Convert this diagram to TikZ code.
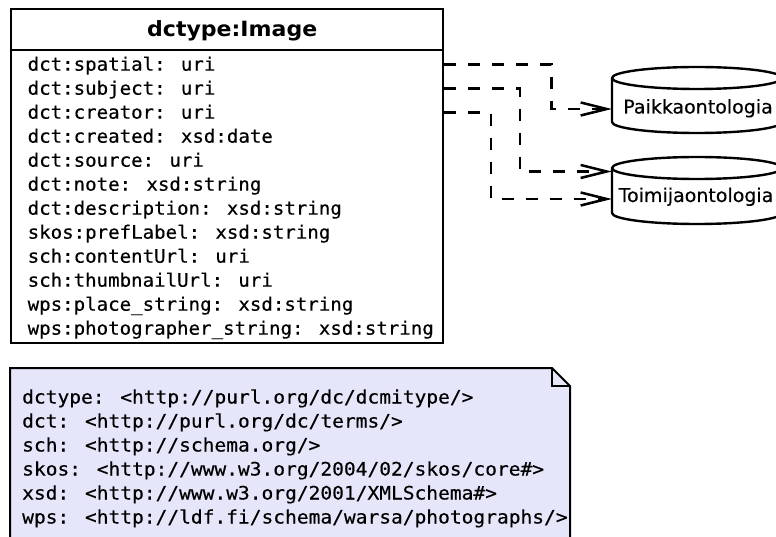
\documentclass[tikz,border=0pt]{standalone}
\usepackage{fontspec}
\setmainfont{DejaVu Sans}
\newfontfamily\attrfont[FakeStretch=1.032,FakeBold=0.4]{DejaVu Sans Mono}
\newfontfamily\nsfont[FakeStretch=1.057,FakeBold=0.4]{DejaVu Sans Mono}
\newfontfamily\titlefont[FakeStretch=1.05]{DejaVu Sans}
\newfontfamily\dbfont[FakeBold=0.3]{DejaVu Sans}
\usetikzlibrary{arrows.meta}
\definecolor{notefill}{RGB}{230,230,250}

\tikzset{
  outline/.style={draw=black, line width=2.4pt},
  attr/.style={anchor=base west, inner sep=0pt, font=\attrfont\fontsize{18.5pt}{22pt}\selectfont},
  nsline/.style={anchor=base west, inner sep=0pt, font=\nsfont\fontsize{18.5pt}{22pt}\selectfont},
  classtitle/.style={anchor=base, inner sep=0pt, font=\titlefont\bfseries\fontsize{21pt}{25pt}\selectfont},
  dbname/.style={anchor=base, inner sep=0pt, font=\dbfont\fontsize{19pt}{22pt}\selectfont},
  dbbody/.style={minimum width=170pt, minimum height=44pt, inner sep=0pt},
  dep/.style={line width=2.5pt, dash pattern=on 12pt off 12pt,
    -{Straight Barb[length=26pt,width=13pt]}},
}

\begin{document}
\begin{tikzpicture}[x=1pt,y=-1pt]
\useasboundingbox (0,0) rectangle (776,537);

% --- class box ---
\node[outline, fill=white, minimum width=432pt, minimum height=334pt,
      inner sep=0pt, anchor=north west] (image) at (10,8) {};
\draw[outline] (image.west |- 0,50) -- (image.east |- 0,50);
\node[classtitle] (title) at ([xshift=5pt]image.north |- 0,36.5) {dctype:Image};

\node[attr] (a1)  at (27.5,70.7)  {dct:spatial: uri};
\node[attr] (a2)  at (27.5,94.7)  {dct:subject: uri};
\node[attr] (a3)  at (27.5,118.7) {dct:creator: uri};
\node[attr] (a4)  at (27.5,142.7) {dct:created: xsd:date};
\node[attr] (a5)  at (27.5,166.7) {dct:source: uri};
\node[attr] (a6)  at (27.5,190.7) {dct:note: xsd:string};
\node[attr] (a7)  at (27.5,214.7) {dct:description: xsd:string};
\node[attr] (a8)  at (27.5,238.7) {skos:prefLabel: xsd:string};
\node[attr] (a9)  at (27.5,262.7) {sch:contentUrl: uri};
\node[attr] (a10) at (27.5,286.7) {sch:thumbnailUrl: uri};
\node[attr] (a11) at (27.5,310.7) {wps:place\_string: xsd:string};
\node[attr] (a12) at (27.5,334.7) {wps:photographer\_string: xsd:string};

% --- ontology databases ---
\node[dbbody] (paikka) at (697,100) {};
\draw[outline, fill=white] (612,78) -- (612,122)
  arc[start angle=180, end angle=360, x radius=85pt, y radius=11pt]
  -- (782,78)
  arc[start angle=0, end angle=180, x radius=85pt, y radius=11pt] -- cycle;
\draw[outline] (612,78) arc[start angle=180, end angle=360, x radius=85pt, y radius=11pt];
\node[dbname] (paikkaLabel) at (698,113.5) {Paikkaontologia};

\node[dbbody] (toimija) at (697,190.5) {};
\draw[outline, fill=white] (612,168) -- (612,213)
  arc[start angle=180, end angle=360, x radius=85pt, y radius=11pt]
  -- (782,168)
  arc[start angle=0, end angle=180, x radius=85pt, y radius=11pt] -- cycle;
\draw[outline] (612,168) arc[start angle=180, end angle=360, x radius=85pt, y radius=11pt];
\node[dbname] (toimijaLabel) at (696,202) {Toimijaontologia};

% --- dependencies ---
\draw[dep] (image.east |- 0,64.5) -| (551.5,109) -- (paikka.west |- 0,109);
\draw[dep] (image.east |- 0,88.5) -| (520,171.5) -- (toimija.west |- 0,171.5);
\draw[dep] (image.east |- 0,112.5) -| (491,199) -- (toimija.west |- 0,199);

% --- namespace note ---
\draw[line width=2pt, fill=notefill] (10,368) -- (552,368) -- (570,386)
  -- (570,560) -- (10,560) -- cycle;
\draw[line width=2pt] (552,368) -- (552,386) -- (570,386);
\node[nsline] (n1) at (22,403.5) {dctype: <http://purl.org/dc/dcmitype/>};
\node[nsline] (n2) at (22,427.5) {dct: <http://purl.org/dc/terms/>};
\node[nsline] (n3) at (22,451.5) {sch: <http://schema.org/>};
\node[nsline] (n4) at (22,475.5) {skos: <http://www.w3.org/2004/02/skos/core\#>};
\node[nsline] (n5) at (22,499.5) {xsd: <http://www.w3.org/2001/XMLSchema\#>};
\node[nsline] (n6) at (22,523.5) {wps: <http://ldf.fi/schema/warsa/photographs/>};
\end{tikzpicture}
\end{document}
